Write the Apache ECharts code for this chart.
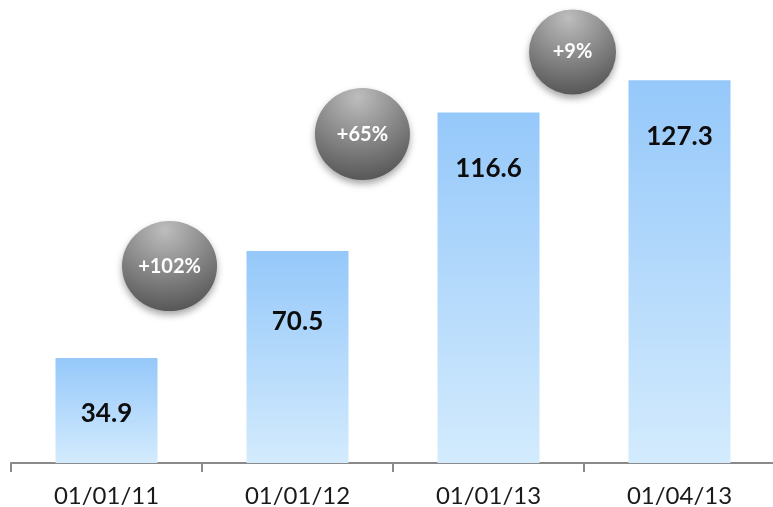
<!DOCTYPE html>
<html>
<head>
<meta charset="utf-8">
<script src="https://cdn.jsdelivr.net/npm/echarts@6/dist/echarts.min.js"></script>
<style>
  html, body { margin: 0; padding: 0; background: #fff; }
  #chart { width: 773px; height: 507px; }
</style>
</head>
<body>
<div id="chart"></div>
<script>
// categories and values
const dates = ['01/01/11', '01/01/12', '01/01/13', '01/04/13']
const values = [34.9, 70.5, 116.6, 127.3]
// growth bubbles: x is in category units (0..4), y in value units
const growthLabels = ['+102%', '+65%', '+9%']
const growthX = [0.83, 1.84, 2.94]
const growthY = [65.5, 109.4, 136.7]

const bubbleSizes = [[95, 90], [95, 92], [87, 85]]

const chart = echarts.init(document.getElementById('chart'))

const barData = values.map((v, i) => {
    // second bar has its label a bit lower in the original
    if (i === 1) return { value: v, label: { distance: 58 } }
    return v
})

const bubbleData = growthLabels.map((t, i) => ({
    value: [growthX[i], growthY[i]],
    name: t,
    symbolSize: bubbleSizes[i],
}))

const option = {
    animation: false,
    grid: {
        left: 11,
        width: 764,
        top: 0,
        height: 463,
        outerBoundsMode: 'none',
    },
    xAxis: [
        {
            type: 'category',
            data: dates,
            axisLine: { lineStyle: { color: '#8a8a8a', width: 2 } },
            axisTick: { show: true, length: 9, lineStyle: { color: '#8a8a8a', width: 2 } },
            axisLabel: {
                color: '#1a1a1a',
                fontFamily: 'Lato',
                fontSize: 24,
                margin: 21,
            },
        },
        {
            type: 'value',
            min: 0,
            max: 4,
            show: false,
        },
    ],
    yAxis: {
        type: 'value',
        min: 0,
        max: 154,
        show: false,
        splitLine: { show: false },
    },
    series: [
        {
            type: 'bar',
            data: barData,
            barWidth: 102,
            itemStyle: {
                color: new echarts.graphic.LinearGradient(0, 0, 0, 1, [
                    { offset: 0, color: '#95c8fa' },
                    { offset: 1, color: '#d3ebfd' },
                ]),
            },
            label: {
                show: true,
                position: 'insideTop',
                distance: 43,
                color: '#0d0d0d',
                fontFamily: 'Lato',
                fontWeight: 'bold',
                fontSize: 26,
            },
        },
        {
            type: 'scatter',
            xAxisIndex: 1,
            data: bubbleData,
            z: 5,
            itemStyle: {
                opacity: 1,
                color: new echarts.graphic.RadialGradient(0.45, 0.1, 0.95, [
                    { offset: 0, color: '#bdbdbd' },
                    { offset: 0.6, color: '#7d7d7d' },
                    { offset: 1, color: '#525252' },
                ]),
                shadowBlur: 7,
                shadowOffsetY: 4,
                shadowColor: 'rgba(0,0,0,0.35)',
            },
            label: {
                show: true,
                position: 'inside',
                formatter: p => p.name,
                color: '#fff',
                fontFamily: 'Lato',
                fontWeight: 'bold',
                fontSize: 20,
            },
        },
    ],
}

chart.setOption(option)
</script>
</body>
</html>
